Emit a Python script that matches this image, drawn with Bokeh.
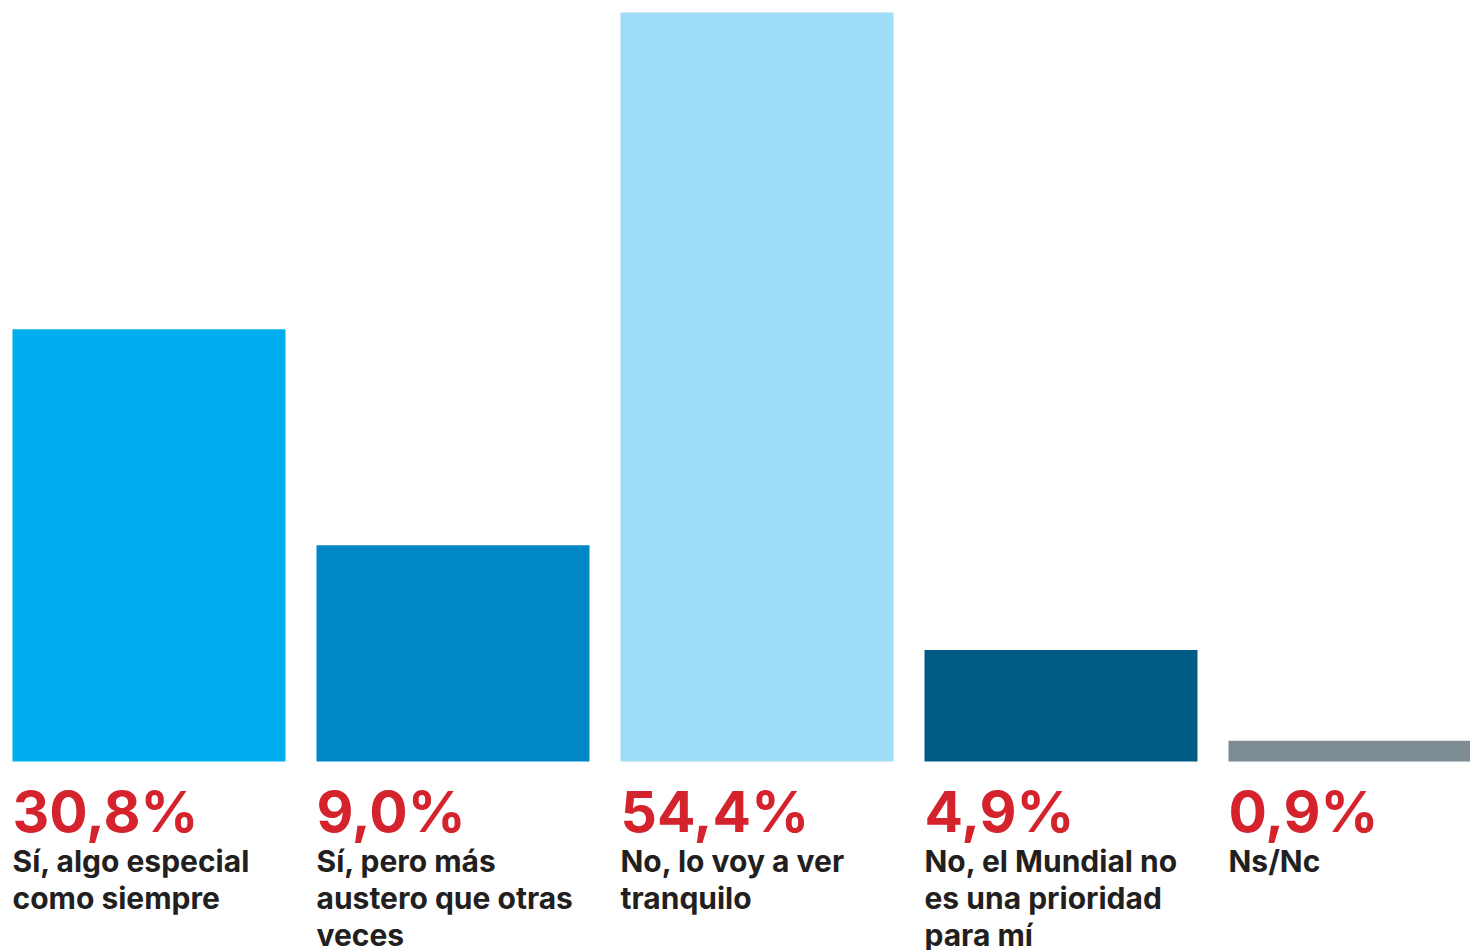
from bokeh.plotting import figure
from bokeh.models import Range1d, ColumnDataSource
from bokeh.core.properties import value
from bokeh.embed import file_html
from bokeh.resources import INLINE

# Data
categories = [
    "Sí, algo especial\ncomo siempre",
    "Sí, pero más\naustero que otras\nveces",
    "No, lo voy a ver\ntranquilo",
    "No, el Mundial no\nes una prioridad\npara mí",
    "Ns/Nc",
]
values = [30.8, 9.0, 54.4, 4.9, 0.9]
value_labels = ["30,8%", "9,0%", "54,4%", "4,9%", "0,9%"]
# bar heights as drawn in the picture (percentage scale)
bar_heights = [31.4, 15.7, 54.4, 8.1, 1.5]
colors = ["#00aeef", "#0087c6", "#9fdcf7", "#005b87", "#7d8b93"]

W, H = 1470, 950
STEP = 304.0          # px per category
BAR_W = 273 / STEP
PX_PER_UNIT = 749 / 54.4
BASE = 761            # baseline, px from top

x = list(range(len(categories)))
left = [i - BAR_W / 2 for i in x]

src = ColumnDataSource(dict(x=x, left=left, top=bar_heights, color=colors,
                            vlab=value_labels, cat=categories))

x0 = -148.5 / STEP
p = figure(width=W, height=H, output_backend="svg", toolbar_location=None,
           x_range=Range1d(x0, x0 + W / STEP),
           y_range=Range1d(-(H - BASE) / PX_PER_UNIT, BASE / PX_PER_UNIT),
           min_border=0, outline_line_color=None,
           background_fill_color="white", border_fill_color="white")
p.xaxis.visible = False
p.yaxis.visible = False
p.xgrid.visible = False
p.ygrid.visible = False

p.vbar(x="x", width=BAR_W, bottom=0, top="top", fill_color="color",
       line_color=None, source=src)

p.text(x="left", y=0, text="vlab", source=src, y_offset=50,
       text_font=value("Inter"), text_font_style="bold",
       text_font_size="57px", text_color="#d4232c",
       text_baseline="alphabetic", text_align="left")

p.text(x="left", y=0, text="cat", source=src, y_offset=81,
       text_font=value("Inter"), text_font_style="bold",
       text_font_size="30px", text_color="#231f20",
       text_baseline="top", text_align="left", text_line_height=1.04)

open("out.html", "w").write(file_html(p, INLINE))
